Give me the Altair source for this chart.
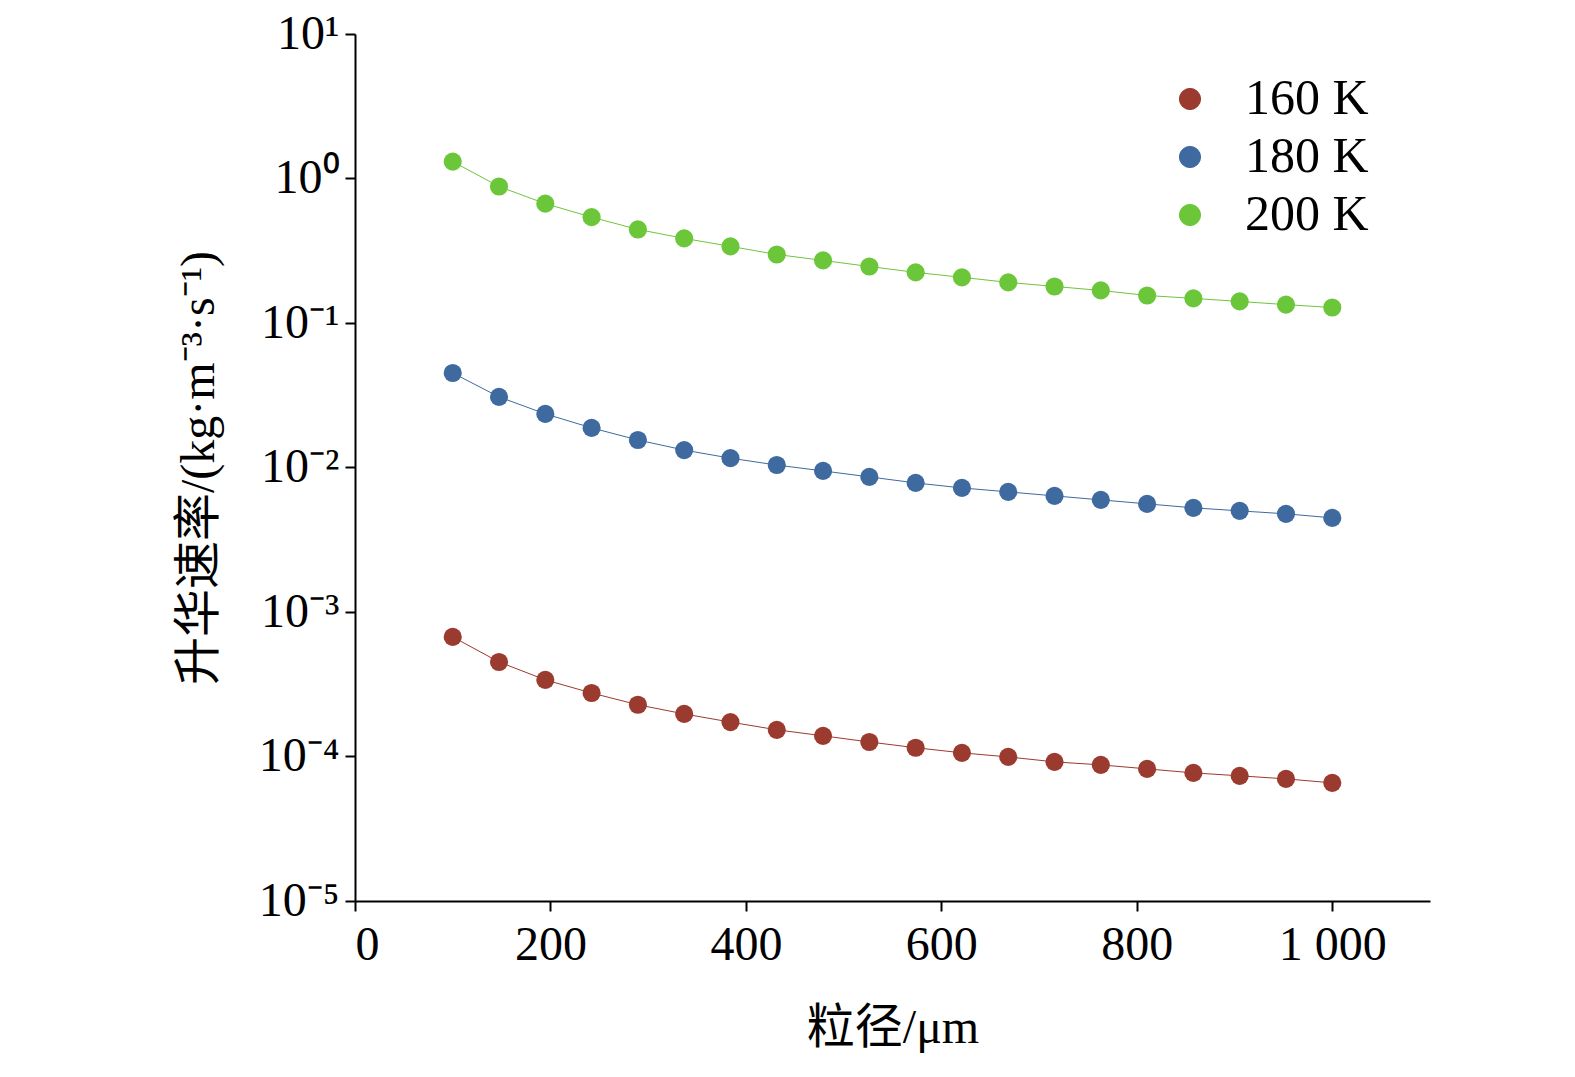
import altair as alt
import pandas as pd

n = 20
size_um = [100 + 900 * i / 19 for i in range(n)]
rate_160 = [6.72e-4, 4.51e-4, 3.39e-4, 2.75e-4, 2.28e-4, 1.97e-4, 1.73e-4, 1.53e-4, 1.39e-4, 1.26e-4,
            1.15e-4, 1.06e-4, 9.93e-5, 9.18e-5, 8.75e-5, 8.21e-5, 7.70e-5, 7.35e-5, 7.0e-5, 6.57e-5]
rate_180 = [0.0451, 0.0308, 0.0235, 0.0188, 0.0155, 0.0132, 0.0116, 0.0104, 0.00947, 0.00861,
            0.00782, 0.00722, 0.00678, 0.00636, 0.00597, 0.00560, 0.00526, 0.00501, 0.00478, 0.00448]
rate_200 = [1.31, 0.88, 0.67, 0.54, 0.444, 0.385, 0.339, 0.298, 0.271, 0.246,
            0.224, 0.207, 0.191, 0.179, 0.168, 0.155, 0.148, 0.141, 0.134, 0.128]
series = ["160 K", "180 K", "200 K"]
x_ticks = [0, 200, 400, 600, 800, 1000]
y_ticks = [1e-5, 1e-4, 1e-3, 1e-2, 1e-1, 1, 10]

rows = []
for name, vals in zip(series, [rate_160, rate_180, rate_200]):
    for x, v in zip(size_um, vals):
        rows.append({"x": x, "y": v, "T": name})
df = pd.DataFrame(rows)

font = "Liberation Serif, Noto Sans CJK SC"
y_label = ("datum.value >= 10 ? '10¹' : datum.value >= 1 ? '10⁰' : datum.value >= 0.1 ? '10⁻¹' : "
           "datum.value >= 0.01 ? '10⁻²' : datum.value >= 0.001 ? '10⁻³' : datum.value >= 0.0001 ? '10⁻⁴' : '10⁻⁵'")

x_enc = alt.X("x:Q", scale=alt.Scale(domain=[0, 1100], nice=False),
              axis=alt.Axis(values=x_ticks, title="粒径/μm", grid=False,
                            labelExpr="datum.value == 1000 ? '1 000' : datum.label",
                            titlePadding=35, tickSize=10, labelPadding=10))
y_enc = alt.Y("y:Q", scale=alt.Scale(type="log", domain=[1e-5, 10], nice=False),
              axis=alt.Axis(values=y_ticks, labelExpr=y_label, grid=False,
                            title="升华速率/(kg·m⁻³·s⁻¹)", titlePadding=35, tickSize=10,
                            labelPadding=6))
color = alt.Color("T:N", scale=alt.Scale(domain=series, range=["#9b3a2e", "#3e6aa0", "#6cc63a"]),
                  legend=alt.Legend(title=None, orient="none", legendX=810, legendY=40,
                                    symbolSize=450, symbolStrokeWidth=1, labelFontSize=50,
                                    labelFont=font, rowPadding=8, symbolType="circle",
                                    labelOffset=30))

base = alt.Chart(df)
lines = base.mark_line(strokeWidth=1).encode(x=x_enc, y=y_enc, color=color)
points = base.mark_circle(size=330, opacity=1).encode(x=x_enc, y=y_enc, color=color)

chart = (lines + points).properties(
    width=1075, height=867,
    autosize=alt.AutoSizeParams(type="none"),
    padding={"left": 347, "top": 26, "right": 130, "bottom": 170},
).configure_view(stroke=None).configure_axis(
    domainColor="black", tickColor="black", labelColor="black", titleColor="black",
    labelFont=font, titleFont=font, labelFontSize=48, titleFontSize=48,
    titleFontWeight="normal", domainWidth=2, tickWidth=2,
)

chart.save("out.html", embed_options={"renderer": "svg", "actions": False})
